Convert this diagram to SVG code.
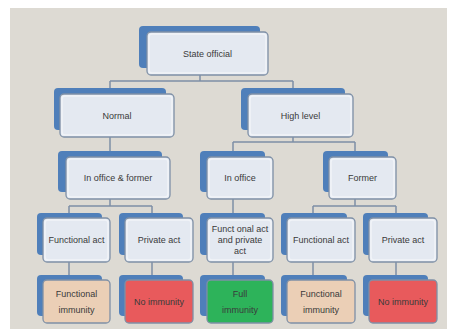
<svg xmlns="http://www.w3.org/2000/svg" width="449" height="329" viewBox="0 0 449 329">
<style>
.bk{fill:#4f7fba}
.fr{fill:#e4e9f1;stroke:#7f90a6;stroke-width:1.3}
.in{fill:none;stroke:#f4f6fa;stroke-width:1.5;opacity:0.8}
.pe{fill:#ebcfb6}
.rd{fill:#e85a5c}
.gr{fill:#2db35a}
.t{font-family:"Liberation Sans",Arial,sans-serif;font-size:9px;fill:#3a3a3a;text-anchor:middle}
.c{fill:none;stroke:#7d8fa6;stroke-width:1.5}
</style>
<rect x="0" y="0" width="449" height="329" fill="#ffffff"/>
<rect x="10" y="8" width="437" height="321" fill="#dddad3"/>
<g id="connectors">
<path class="c" d="M200 75V81M110 81H293M110 81V88M293 81V88"/>
<path class="c" d="M110 137V151"/>
<path class="c" d="M293 137V142M233 142H355M233 142V151M355 142V151"/>
<path class="c" d="M110 199V206M69 206H152M69 206V213M152 206V213"/>
<path class="c" d="M233 199V213"/>
<path class="c" d="M355 199V206M313 206H396M313 206V213M396 206V213"/>
<path class="c" d="M69 262V275M152 262V275M233 262V275M313 262V275M396 262V275"/>
</g>
<g id="state">
<rect class="bk" x="139" y="26" width="121" height="42" rx="4"/>
<rect class="fr" x="147" y="32" width="121" height="43" rx="4"/>
<rect class="in" x="149" y="34" width="117" height="39" rx="3"/>
<text class="t" x="207.5" y="56.5">State official</text>
</g>
<g id="normal">
<rect class="bk" x="54" y="88" width="112" height="42" rx="4"/>
<rect class="fr" x="60" y="94" width="114" height="43" rx="4"/>
<rect class="in" x="62" y="96" width="110" height="39" rx="3"/>
<text class="t" x="117" y="118.5">Normal</text>
</g>
<g id="high">
<rect class="bk" x="241" y="88" width="104" height="42" rx="4"/>
<rect class="fr" x="248" y="94" width="105" height="43" rx="4"/>
<rect class="in" x="250" y="96" width="101" height="39" rx="3"/>
<text class="t" x="300.5" y="118.5">High level</text>
</g>
<g id="inofficeformer">
<rect class="bk" x="58" y="151" width="104" height="41" rx="4"/>
<rect class="fr" x="66" y="157" width="104" height="42" rx="4"/>
<rect class="in" x="68" y="159" width="100" height="38" rx="3"/>
<text class="t" x="118" y="180.5">In office &amp; former</text>
</g>
<g id="inoffice">
<rect class="bk" x="200" y="151" width="65" height="41" rx="4"/>
<rect class="fr" x="207" y="157" width="66" height="42" rx="4"/>
<rect class="in" x="209" y="159" width="62" height="38" rx="3"/>
<text class="t" x="240" y="180.5">In office</text>
</g>
<g id="former">
<rect class="bk" x="323" y="151" width="65" height="41" rx="4"/>
<rect class="fr" x="329" y="157" width="67" height="42" rx="4"/>
<rect class="in" x="331" y="159" width="63" height="38" rx="3"/>
<text class="t" x="362.5" y="180.5">Former</text>
</g>
<g id="fa1">
<rect class="bk" x="37" y="213" width="65" height="42" rx="4"/>
<rect class="fr" x="43" y="218" width="67" height="44" rx="4"/>
<rect class="in" x="45" y="220" width="63" height="40" rx="3"/>
<text class="t" x="76.5" y="242.5">Functional act</text>
</g>
<g id="pa1">
<rect class="bk" x="119" y="213" width="64" height="42" rx="4"/>
<rect class="fr" x="125" y="218" width="68" height="44" rx="4"/>
<rect class="in" x="127" y="220" width="64" height="40" rx="3"/>
<text class="t" x="159" y="242.5">Private act</text>
</g>
<g id="fapa">
<rect class="bk" x="200" y="213" width="65" height="42" rx="4"/>
<rect class="fr" x="207" y="218" width="66" height="44" rx="4"/>
<rect class="in" x="209" y="220" width="62" height="40" rx="3"/>
<text class="t" x="240" y="232">Funct onal act</text>
<text class="t" x="240" y="242.5">and private</text>
<text class="t" x="240" y="253.5">act</text>
</g>
<g id="fa2">
<rect class="bk" x="281" y="213" width="66" height="42" rx="4"/>
<rect class="fr" x="287" y="218" width="68" height="44" rx="4"/>
<rect class="in" x="289" y="220" width="64" height="40" rx="3"/>
<text class="t" x="321" y="242.5">Functional act</text>
</g>
<g id="pa2">
<rect class="bk" x="363" y="213" width="65" height="42" rx="4"/>
<rect class="fr" x="369" y="218" width="68" height="44" rx="4"/>
<rect class="in" x="371" y="220" width="64" height="40" rx="3"/>
<text class="t" x="403" y="242.5">Private act</text>
</g>
<g id="fi1">
<rect class="bk" x="37" y="275" width="65" height="41" rx="4"/>
<rect class="fr pe" x="43" y="280" width="67" height="43" rx="4"/>
<text class="t" x="76.5" y="297">Functional</text>
<text class="t" x="76.5" y="313">immunity</text>
</g>
<g id="ni1">
<rect class="bk" x="119" y="275" width="64" height="41" rx="4"/>
<rect class="fr rd" x="125" y="280" width="68" height="43" rx="4"/>
<text class="t" x="159" y="304.5">No immunity</text>
</g>
<g id="full">
<rect class="bk" x="200" y="275" width="65" height="41" rx="4"/>
<rect class="fr gr" x="207" y="280" width="66" height="43" rx="4"/>
<text class="t" x="240" y="297">Full</text>
<text class="t" x="240" y="313">immunity</text>
</g>
<g id="fi2">
<rect class="bk" x="281" y="275" width="66" height="41" rx="4"/>
<rect class="fr pe" x="287" y="280" width="68" height="43" rx="4"/>
<text class="t" x="321" y="297">Functional</text>
<text class="t" x="321" y="313">immunity</text>
</g>
<g id="ni2">
<rect class="bk" x="363" y="275" width="65" height="41" rx="4"/>
<rect class="fr rd" x="369" y="280" width="68" height="43" rx="4"/>
<text class="t" x="403" y="304.5">No immunity</text>
</g>
</svg>
